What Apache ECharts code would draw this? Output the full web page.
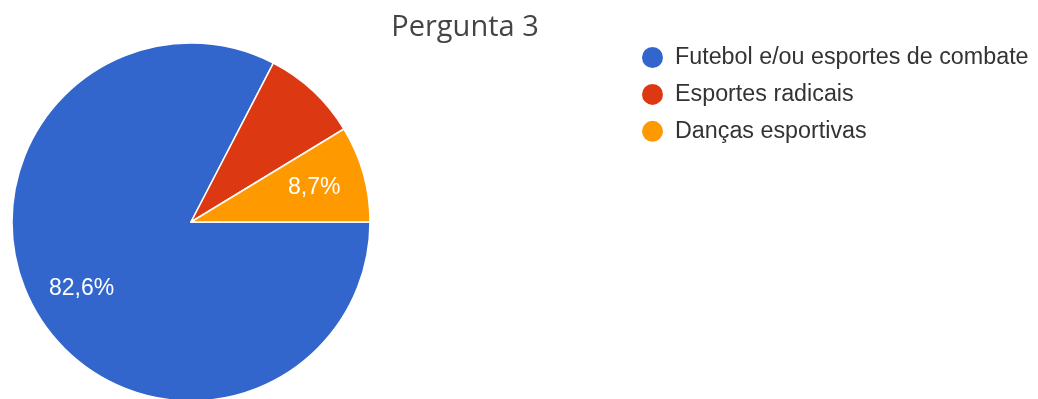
<!DOCTYPE html>
<html>
<head>
<meta charset="utf-8">
<script src="https://cdn.jsdelivr.net/npm/echarts@6/dist/echarts.min.js"></script>
<style>
html,body{margin:0;padding:0;background:#fff;}
#c{width:1038px;height:399px;}
</style>
</head>
<body>
<div id="c"></div>
<script>
const titleText = 'Pergunta 3';
const categories = ['Futebol e/ou esportes de combate', 'Esportes radicais', 'Danças esportivas'];
const values = [19, 2, 2];
const colors = ['#3366cc', '#dc3912', '#ff9900'];
const showLabel = [true, false, true];

const total = values.reduce((a, b) => a + b, 0);
const fmt = v => (v / total * 100).toFixed(1).replace('.', ',') + '%';

const chart = echarts.init(document.getElementById('c'));
const baseData = categories.map((n, i) => ({ name: n, value: values[i], itemStyle: { color: colors[i] } }));
const labelData = categories.map((n, i) => ({
  name: n, value: values[i],
  label: { show: showLabel[i] }
}));

chart.setOption({
  animation: false,
  title: {
    text: titleText,
    left: 460, textAlign: 'center',
    top: 8,
    textStyle: { fontFamily: 'Open Sans', fontSize: 29, fontWeight: 'normal', color: '#444444' }
  },
  legend: {
    orient: 'vertical',
    left: 635, top: 40,
    icon: 'circle',
    itemWidth: 23, itemHeight: 23, itemGap: 11.9,
    data: categories,
    selectedMode: false,
    textStyle: { fontFamily: 'Liberation Sans, Arial', fontSize: 23.3, lineHeight: 23, color: '#333333', padding: [0, 0, 0, 6] }
  },
  series: [
    {
      type: 'pie',
      center: [191, 222],
      radius: [0, 179],
      startAngle: 0,
      clockwise: true,
      silent: true,
      itemStyle: { borderColor: '#ffffff', borderWidth: 1.5 },
      label: { show: false },
      labelLine: { show: false },
      data: baseData
    },
    {
      type: 'pie',
      center: [191, 222],
      radius: [0, 250],
      startAngle: 0,
      clockwise: true,
      silent: true,
      z: 5,
      legendHoverLink: false,
      itemStyle: { color: 'rgba(0,0,0,0)', borderWidth: 0 },
      label: {
        show: true, position: 'inside',
        formatter: p => fmt(p.value),
        color: '#ffffff',
        fontFamily: 'Liberation Sans, Arial',
        fontSize: 23
      },
      labelLine: { show: false },
      data: labelData
    }
  ]
});
</script>
</body>
</html>
